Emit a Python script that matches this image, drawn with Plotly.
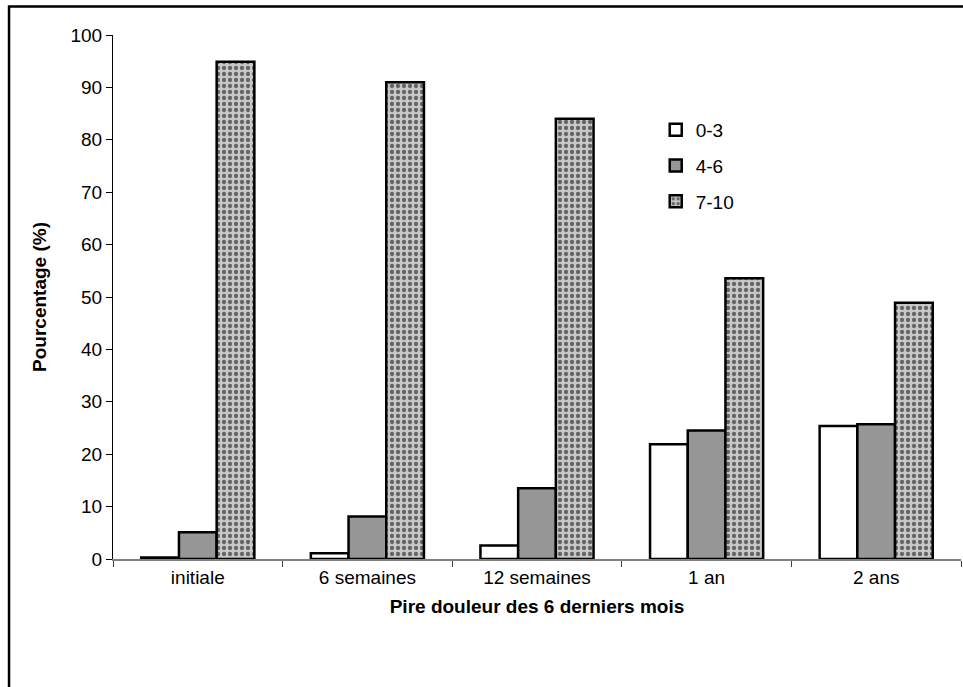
import plotly.graph_objects as go

categories = ["initiale", "6 semaines", "12 semaines", "1 an", "2 ans"]
series_names = ["0-3", "4-6", "7-10"]
values_0_3 = [0.3, 1.1, 2.6, 21.9, 25.4]
values_4_6 = [5.1, 8.1, 13.5, 24.5, 25.7]
values_7_10 = [94.9, 91.0, 84.0, 53.6, 48.9]
y_ticks = [0, 10, 20, 30, 40, 50, 60, 70, 80, 90, 100]

FONT = "Liberation Sans, Arial, sans-serif"
FS = 19

fig = go.Figure()
fig.add_trace(go.Bar(
    x=categories, y=values_0_3, name=series_names[0], legendgroup="a",
    marker=dict(color="white", line=dict(color="black", width=2.5)),
))
fig.add_trace(go.Bar(
    x=categories, y=values_4_6, name=series_names[1], legendgroup="b",
    marker=dict(color="#969696", line=dict(color="black", width=2.5)),
))
fig.add_trace(go.Bar(
    x=categories, y=values_7_10, name=series_names[2], legendgroup="c",
    marker=dict(color="#bdbdbd", line=dict(color="black", width=2.5),
                pattern=dict(shape=".", bgcolor="#c8c8c8", fgcolor="#646464",
                             size=6, solidity=0.4, fillmode="replace")),
))

fig.update_layout(
    width=963, height=687, autosize=False,
    margin=dict(l=113, r=2, t=35, b=128),
    paper_bgcolor="white", plot_bgcolor="white",
    barmode="group", bargap=0.333, bargroupgap=0,
    font=dict(family=FONT, size=FS, color="black"),
    showlegend=True,
    legend=dict(x=0.64, y=0.855, xanchor="left", yanchor="top",
                bgcolor="rgba(0,0,0,0)", tracegroupgap=8,
                font=dict(family=FONT, size=FS, color="black")),
    shapes=[dict(type="rect", xref="paper", yref="paper",
                 x0=-0.1226, x1=1.05, y0=-0.3, y1=1.0545,
                 line=dict(color="black", width=2.5), fillcolor="rgba(0,0,0,0)",
                 layer="above")],
)
fig.update_xaxes(
    type="category", showline=True, linecolor="#808080", linewidth=2,
    ticks="outside", tickson="boundaries", ticklen=6, tickcolor="#404040", tickwidth=1,
    showgrid=False, zeroline=False,
    tickfont=dict(family=FONT, size=FS),
    title=dict(text="<b>Pire douleur des 6 derniers mois</b>", font=dict(family=FONT, size=FS), standoff=13),
)
fig.update_yaxes(
    range=[0, 100], tickvals=y_ticks, showline=True, linecolor="black", linewidth=1,
    ticks="outside", ticklen=6, tickcolor="black", tickwidth=1,
    showgrid=False, zeroline=False,
    tickfont=dict(family=FONT, size=FS),
    title=dict(text="<b>Pourcentage (%)</b>", font=dict(family=FONT, size=FS), standoff=18),
)

fig.write_html("out.html")
